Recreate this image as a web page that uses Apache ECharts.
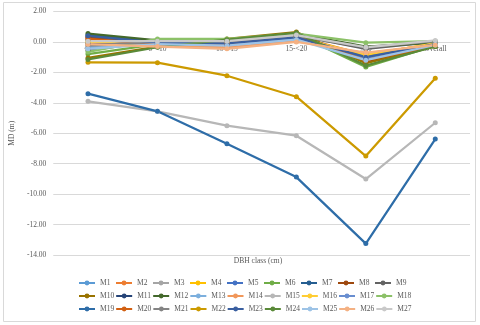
<!DOCTYPE html>
<html>
<head>
<meta charset="utf-8">
<script src="https://cdn.jsdelivr.net/npm/echarts@6/dist/echarts.min.js"></script>
<style>
    html, body {margin: 0; padding: 0; background: #fff;}
    #md {width: 480px; height: 325px;}
</style>
</head>
<body>
<div id="md"></div>
<script>
// DBH classes
var categories = ['<5', '5-<10', '10-<15', '15-<20', '≥20', 'Overall'];
var yTicks = [2, 0, -2, -4, -6, -8, -10, -12, -14];

// MD per model (m)
var m1  = [0.10, -0.05, -0.15, 0.30, -1.00, -0.15];
var m2  = [0.25, -0.10, -0.10, 0.35, -0.85, -0.10];
var m3  = [-0.05, 0.00, 0.05, 0.40, -0.40, 0.00];
var m4  = [0.05, -0.05, -0.05, 0.30, -0.90, -0.15];
var m5  = [0.35, -0.10, -0.20, 0.25, -1.05, -0.20];
var m6  = [-0.80, -0.15, 0.10, 0.50, -1.65, -0.25];
var m7  = [0.45, 0.00, -0.15, 0.30, -1.10, -0.20];
var m8  = [0.30, -0.05, 0.00, 0.45, -1.30, -0.25];
var m9  = [-0.55, 0.05, 0.10, 0.45, -0.45, 0.00];
var m10 = [-1.05, -0.30, 0.20, 0.65, -1.40, -0.30];
var m11 = [-0.10, -0.10, -0.10, 0.35, -0.95, -0.15];
var m12 = [0.55, 0.10, 0.15, 0.55, -0.30, -0.05];
var m13 = [-0.35, -0.05, -0.05, 0.25, -1.00, -0.10];
var m14 = [-0.20, -0.25, -0.35, 0.05, -0.75, -0.20];
var m15 = [-3.90, -4.56, -5.50, -6.16, -9.01, -5.31];
var m16 = [0.00, -0.05, -0.05, 0.30, -0.85, -0.10];
var m17 = [0.15, -0.10, -0.15, 0.20, -1.10, -0.20];
var m18 = [-0.65, 0.20, 0.20, 0.55, -0.05, 0.05];
var m19 = [-3.40, -4.56, -6.69, -8.88, -13.25, -6.38];
var m20 = [0.20, -0.15, -0.10, 0.40, -1.20, -0.25];
var m21 = [-0.25, 0.00, 0.05, 0.40, -0.35, 0.05];
var m22 = [-1.34, -1.36, -2.22, -3.60, -7.50, -2.39];
var m23 = [0.40, -0.05, -0.10, 0.30, -1.00, -0.15];
var m24 = [-1.15, -0.35, 0.15, 0.60, -1.55, -0.30];
var m25 = [-0.45, -0.15, -0.25, 0.15, -1.20, -0.20];
var m26 = [-0.15, -0.30, -0.45, 0.00, -0.70, -0.20];
var m27 = [0.05, 0.05, 0.05, 0.45, -0.35, 0.10];

var seriesData = [m1, m2, m3, m4, m5, m6, m7, m8, m9, m10, m11, m12, m13, m14,
                  m15, m16, m17, m18, m19, m20, m21, m22, m23, m24, m25, m26, m27];

// excel-ish palette
var colors = ['#5B9BD5', '#ED7D31', '#A5A5A5', '#FFC000', '#4472C4', '#70AD47',
              '#255E91', '#9E480E', '#636363', '#997300', '#264478', '#43682B',
              '#7CAFDD', '#F1975A', '#B7B7B7', '#FFCD33', '#698ED0', '#8CC168',
              '#2E6DA8', '#D26012', '#848484', '#CC9A00', '#3A5FA0', '#5A8A39',
              '#9DC3E6', '#F4B183', '#C9C9C9'];

var font = '"Liberation Serif", "Times New Roman", serif';

var chart = echarts.init(document.getElementById('md'));

var names = [];
var mySeries = [];
for (var i = 0; i < seriesData.length; i++) {
    names.push('M' + (i + 1));
    mySeries.push({
        name: 'M' + (i + 1),
        type: 'line',
        data: seriesData[i],
        symbol: 'circle',
        symbolSize: 5,
        lineStyle: {width: 2.25},
        emphasis: {disabled: true},
        animation: false
    });
}

option = {
    color: colors,
    animation: false,
    grid: {
        left: 52,
        right: 10,
        top: 11.5,
        bottom: 70
    },
    legend: {
        data: names,
        left: 78,
        top: 277,
        width: 345,
        padding: 0,
        itemWidth: 16,
        itemHeight: 6,
        itemGap: 1,
        textStyle: {
            color: '#595959',
            fontSize: 7.5,
            fontFamily: font,
            width: 14,
            height: 12,
            lineHeight: 12
        }
    },
    graphic: [
        {
            type: 'rect',
            shape: {x: 3.5, y: 2.5, width: 472, height: 319},
            style: {fill: 'none', stroke: '#d9d9d9', lineWidth: 1},
            z: -1
        },
        {
            type: 'text',
            x: 258,
            y: 261,
            style: {
                text: 'DBH class (cm)',
                fill: '#595959',
                font: '7.5px ' + font,
                textAlign: 'center',
                textVerticalAlign: 'middle'
            }
        }
    ],
    xAxis: {
        type: 'category',
        data: categories,
        boundaryGap: true,
        position: 'bottom',
        offset: -213,   // sit on the 0 line like excel does
        axisTick: {show: false},
        axisLine: {onZero: false, lineStyle: {color: '#d9d9d9', width: 1}},
        axisLabel: {
            color: '#595959',
            fontSize: 7.5,
            fontFamily: font,
            margin: 3,
            interval: 0
        },
        z: 0
    },
    yAxis: {
        type: 'value',
        min: yTicks[yTicks.length - 1],
        max: yTicks[0],
        interval: 2,
        name: 'MD (m)',
        nameLocation: 'middle',
        nameRotate: 90,
        nameGap: 30,
        nameTextStyle: {color: '#595959', fontSize: 7.5, fontFamily: font},
        axisLine: {show: false},
        axisTick: {show: false},
        axisLabel: {
            color: '#595959',
            fontSize: 7.5,
            fontFamily: font,
            margin: 7,
            formatter: function (v) { return v.toFixed(2); }
        },
        splitLine: {lineStyle: {color: '#d9d9d9', width: 1}}
    },
    series: mySeries
};

chart.setOption(option);
</script>
</body>
</html>
